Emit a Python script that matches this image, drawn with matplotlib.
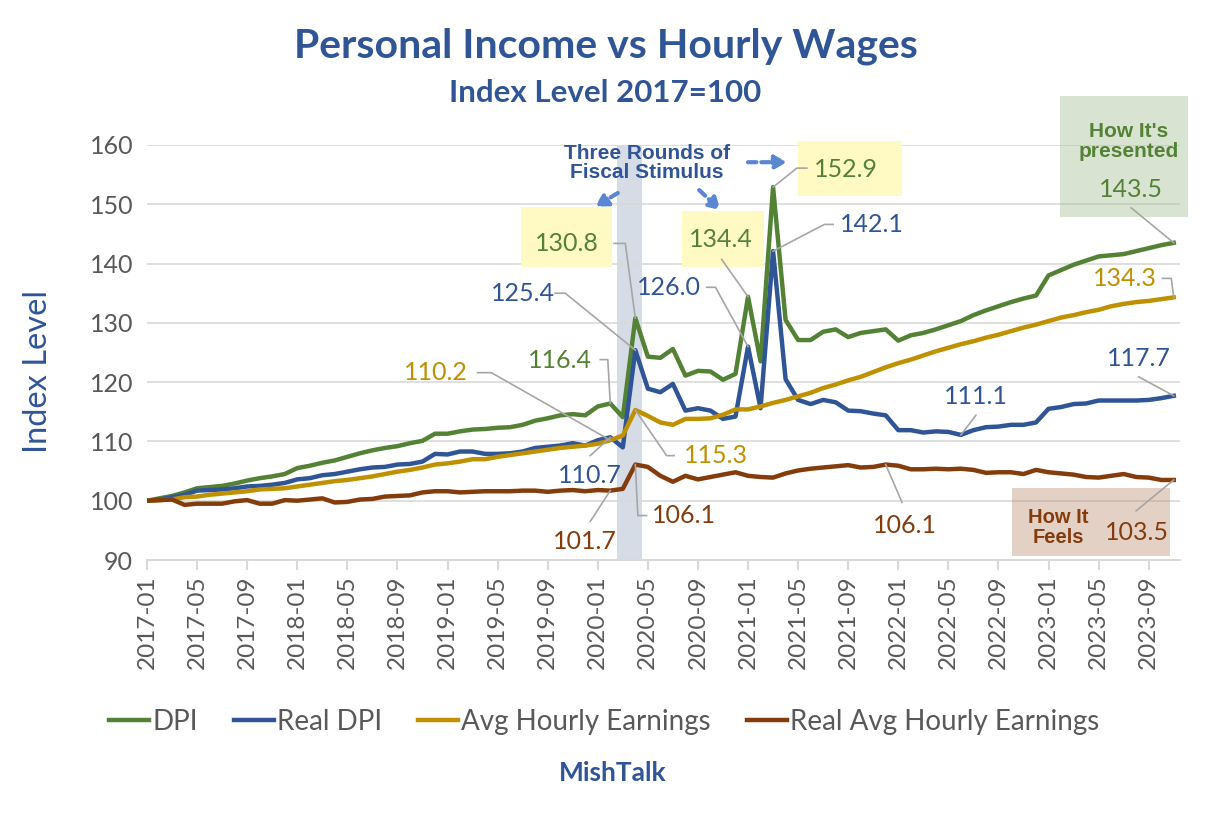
import numpy as np
import matplotlib
matplotlib.use("Agg")
import matplotlib.pyplot as plt
from matplotlib.patches import Rectangle

plt.rcParams['font.family'] = ['Lato', 'DejaVu Sans']

# monthly, 2017-01 .. 2023-11, index 2017-01 = 100
months = [f"{y}-{m:02d}" for y in range(2017, 2024) for m in range(1, 13)][:83]

dpi_idx = [
    100.0, 100.4, 100.8, 101.4, 102.1, 102.3, 102.5, 102.9, 103.4, 103.8, 104.1, 104.5,
    105.5, 105.9, 106.4, 106.8, 107.4, 108.0, 108.5, 108.9, 109.2, 109.7, 110.1, 111.3,
    111.3, 111.7, 112.0, 112.1, 112.3, 112.4, 112.8, 113.5, 113.9, 114.4, 114.6, 114.4,
    115.9, 116.4, 114.1, 130.8, 124.3, 124.1, 125.6, 121.1, 121.9, 121.8, 120.4, 121.4,
    134.4, 123.5, 152.9, 130.5, 127.1, 127.1, 128.5, 128.9, 127.6, 128.3, 128.6, 128.9,
    127.0, 127.9, 128.3, 128.9, 129.6, 130.3, 131.3, 132.1, 132.8, 133.5, 134.1, 134.6,
    138.0, 138.9, 139.8, 140.5, 141.2, 141.4, 141.6, 142.1, 142.6, 143.1, 143.5]

real_dpi = [
    100.0, 100.2, 100.6, 101.0, 101.7, 101.8, 101.9, 102.1, 102.4, 102.5, 102.7, 103.0,
    103.6, 103.8, 104.3, 104.5, 104.9, 105.3, 105.6, 105.7, 106.1, 106.2, 106.6, 107.9,
    107.8, 108.3, 108.3, 107.9, 107.9, 108.0, 108.3, 108.9, 109.1, 109.3, 109.7, 109.3,
    110.2, 110.7, 109.0, 125.4, 118.9, 118.3, 119.7, 115.2, 115.6, 115.2, 113.8, 114.2,
    126.0, 115.6, 142.1, 120.5, 117.0, 116.3, 117.0, 116.6, 115.2, 115.1, 114.7, 114.4,
    111.9, 111.9, 111.5, 111.7, 111.6, 111.1, 111.9, 112.4, 112.5, 112.8, 112.8, 113.2,
    115.5, 115.8, 116.3, 116.4, 116.9, 116.9, 116.9, 116.9, 117.0, 117.3, 117.7]

avg_hourly = [
    100.0, 100.1, 100.2, 100.6, 100.7, 101.0, 101.2, 101.4, 101.6, 101.9, 102.0, 102.1,
    102.4, 102.7, 103.0, 103.3, 103.5, 103.8, 104.1, 104.5, 104.9, 105.2, 105.6, 106.1,
    106.3, 106.6, 107.0, 107.0, 107.4, 107.7, 108.0, 108.3, 108.6, 108.9, 109.1, 109.3,
    109.6, 110.2, 111.0, 115.3, 114.3, 113.2, 112.8, 113.8, 113.8, 113.9, 114.5, 115.4,
    115.4, 115.9, 116.5, 117.0, 117.6, 118.2, 119.0, 119.6, 120.3, 120.9, 121.7, 122.5,
    123.2, 123.8, 124.5, 125.2, 125.8, 126.4, 126.9, 127.5, 128.0, 128.6, 129.2, 129.7,
    130.3, 130.9, 131.3, 131.8, 132.2, 132.8, 133.2, 133.5, 133.7, 134.0, 134.3]

real_avg_hourly = [
    100.0, 100.1, 100.2, 99.3, 99.5, 99.5, 99.5, 99.9, 100.1, 99.5, 99.5, 100.1,
    100.0, 100.2, 100.4, 99.7, 99.8, 100.2, 100.3, 100.7, 100.8, 100.9, 101.4, 101.6,
    101.6, 101.4, 101.5, 101.6, 101.6, 101.6, 101.7, 101.7, 101.5, 101.7, 101.8, 101.6,
    101.8, 101.7, 102.0, 106.1, 105.7, 104.2, 103.2, 104.2, 103.6, 104.0, 104.4, 104.8,
    104.2, 104.0, 103.9, 104.6, 105.1, 105.4, 105.6, 105.8, 106.0, 105.6, 105.7, 106.1,
    105.9, 105.3, 105.3, 105.4, 105.3, 105.4, 105.2, 104.7, 104.8, 104.8, 104.5, 105.2,
    104.8, 104.6, 104.4, 104.0, 103.9, 104.2, 104.5, 104.0, 103.9, 103.5, 103.5]

GREEN = "#548235"
BLUE = "#2F5597"
GOLD = "#BF9000"
BROWN = "#843C0C"
GRID = "#D9D9D9"
TXT = "#595959"
LEADER = "#A6A6A6"
ARIAL = ['Liberation Sans', 'DejaVu Sans']

x = np.arange(len(months))

fig = plt.figure(figsize=(12.17, 8.19), dpi=100)
ax = fig.add_axes([147 / 1217, 1 - 560 / 819, (1180 - 147) / 1217, (560 - 145) / 819])

# covid shading
ax.axvspan(37.5, 39.5, color="#D6DCE5", zorder=0, lw=0)

lw = 3.2
ax.plot(x, dpi_idx, color=GREEN, lw=lw, label="DPI", zorder=3)
ax.plot(x, real_dpi, color=BLUE, lw=lw, label="Real DPI", zorder=3)
ax.plot(x, avg_hourly, color=GOLD, lw=lw, label="Avg Hourly Earnings", zorder=3)
ax.plot(x, real_avg_hourly, color=BROWN, lw=lw, label="Real Avg Hourly Earnings", zorder=3)

ax.set_xlim(0, 82.5)
ax.set_ylim(90, 160)
ax.set_yticks(range(90, 161, 10))
ax.set_xticks(x[::4])
ax.set_xticklabels(months[::4], rotation=90)
ax.tick_params(axis="x", colors=GRID, labelcolor=TXT, labelsize=17.5, length=7, width=1.5, pad=4)
ax.tick_params(axis="y", length=0, labelcolor=TXT, labelsize=18, pad=10)
ax.grid(axis="y", color=GRID, lw=1.2, zorder=1)
ax.set_axisbelow(True)
for s in ["top", "right", "left"]:
    ax.spines[s].set_visible(False)
ax.spines["bottom"].set_color(GRID)
ax.spines["bottom"].set_linewidth(1.5)


def box(x0, x1, y0, y1, color, alpha=1.0):
    ax.add_patch(Rectangle((x0, y0), x1 - x0, y1 - y0, facecolor=color, alpha=alpha,
                           lw=0, zorder=2, clip_on=False))


box(29.9, 37.1, 139.4, 149.5, "#FFF9C4")
box(42.7, 49.3, 139.4, 148.8, "#FFF9C4")
box(52.0, 60.3, 151.4, 160.6, "#FFF9C4")
box(72.9, 83.1, 147.8, 168.2, "#A9C49A", 0.45)
box(69.1, 81.7, 90.7, 102.2, "#B98C72", 0.4)


def label(i, series, text, color, tx, ty, start, elbow=None):
    ax.text(tx, ty, text, color=color, fontsize=18, ha="center", va="center", zorder=5)
    pts = [start] + ([elbow] if elbow else []) + [(i, series[i])]
    ax.plot([p[0] for p in pts], [p[1] for p in pts], color=LEADER, lw=1.2, zorder=4,
            clip_on=False)


label(39, dpi_idx, "130.8", GREEN, 33.5, 143.4, (37.3, 143.4), (38.2, 143.4))
label(39, real_dpi, "125.4", BLUE, 30.0, 135.0, (32.6, 135.0), (33.4, 135.0))
label(37, dpi_idx, "116.4", GREEN, 33.0, 123.6, (36.2, 123.8), (36.8, 123.8))
label(37, avg_hourly, "110.2", GOLD, 23.1, 121.6, (26.4, 121.6), (27.5, 121.6))
label(37, real_dpi, "110.7", BLUE, 35.4, 104.2, (35.4, 107.6))
label(37, real_avg_hourly, "101.7", BROWN, 35.0, 93.2, (35.4, 96.5))
label(39, real_avg_hourly, "106.1", BROWN, 42.9, 97.5, (39.9, 97.5), (39.2, 97.5))
label(39, avg_hourly, "115.3", GOLD, 45.4, 107.6, (42.1, 107.6), (41.5, 107.6))
label(48, real_dpi, "126.0", BLUE, 41.7, 136.0, (44.7, 136.0), (45.4, 136.0))
label(48, dpi_idx, "134.4", GREEN, 45.8, 144.1, (45.9, 140.7))
label(50, dpi_idx, "152.9", GREEN, 55.8, 155.9, (52.7, 156.1), (51.9, 156.1))
label(50, real_dpi, "142.1", BLUE, 57.9, 146.6, (54.8, 146.6), (54.1, 146.6))
label(65, real_dpi, "111.1", BLUE, 66.2, 117.6, (66.2, 114.4))
label(59, real_avg_hourly, "106.1", BROWN, 60.5, 95.9, (60.3, 99.7))
label(82, avg_hourly, "134.3", GOLD, 78.1, 137.5, (81.1, 137.5), (81.8, 137.5))
label(82, real_dpi, "117.7", BLUE, 79.2, 124.0, (79.2, 120.9))
label(82, dpi_idx, "143.5", GREEN, 78.6, 152.5, (78.6, 149.4))
label(82, real_avg_hourly, "103.5", BROWN, 79.1, 94.6, (79.0, 98.3))

ax.text(78.4, 160.6, "How It's\npresented", color=GREEN, fontsize=15, fontweight="bold",
        family=ARIAL, ha="center", va="center", linespacing=1.05, zorder=5)
ax.text(72.8, 95.5, "How It\nFeels", color=BROWN, fontsize=14.5, fontweight="bold",
        family=ARIAL, ha="center", va="center", linespacing=1.05, zorder=5)
ax.text(39.9, 156.9, "Three Rounds of\nFiscal Stimulus", color=BLUE, fontsize=15,
        fontweight="bold", family=ARIAL, ha="center", va="center", linespacing=1.0,
        zorder=5)

arrow_kw = dict(arrowstyle="-|>,head_length=0.7,head_width=0.4", color="#5B87D2",
                lw=3, linestyle=(0, (2, 1.2)), shrinkA=0, shrinkB=0)
for (x0, y0), (x1, y1) in [((37.6, 151.9), (35.8, 149.6)),
                           ((44.1, 152.4), (45.8, 149.0)),
                           ((48.0, 157.1), (51.1, 157.1))]:
    ax.annotate("", xy=(x1, y1), xytext=(x0, y0), arrowprops=arrow_kw, zorder=5,
                annotation_clip=False)

fig.text(606 / 1217, 1 - 46 / 819, "Personal Income vs Hourly Wages", color=BLUE,
         fontsize=29.5, fontweight="bold", ha="center", va="center")
fig.text(605 / 1217, 1 - 93 / 819, "Index Level 2017=100", color=BLUE,
         fontsize=22.5, fontweight="bold", ha="center", va="center")
fig.text(38 / 1217, 1 - 372 / 819, "Index Level", color=BLUE, fontsize=23.5,
         rotation=90, ha="center", va="center")
fig.text(613 / 1217, 1 - 773 / 819, "MishTalk", color=BLUE, fontsize=19,
         fontweight="bold", ha="center", va="center")

fig.legend(loc="center", bbox_to_anchor=(604 / 1217, 1 - 722 / 819), ncol=4,
           frameon=False, fontsize=20, handlelength=1.45, handletextpad=0.1,
           columnspacing=1.3, labelcolor=TXT)

fig.savefig("out.png", dpi=100)
